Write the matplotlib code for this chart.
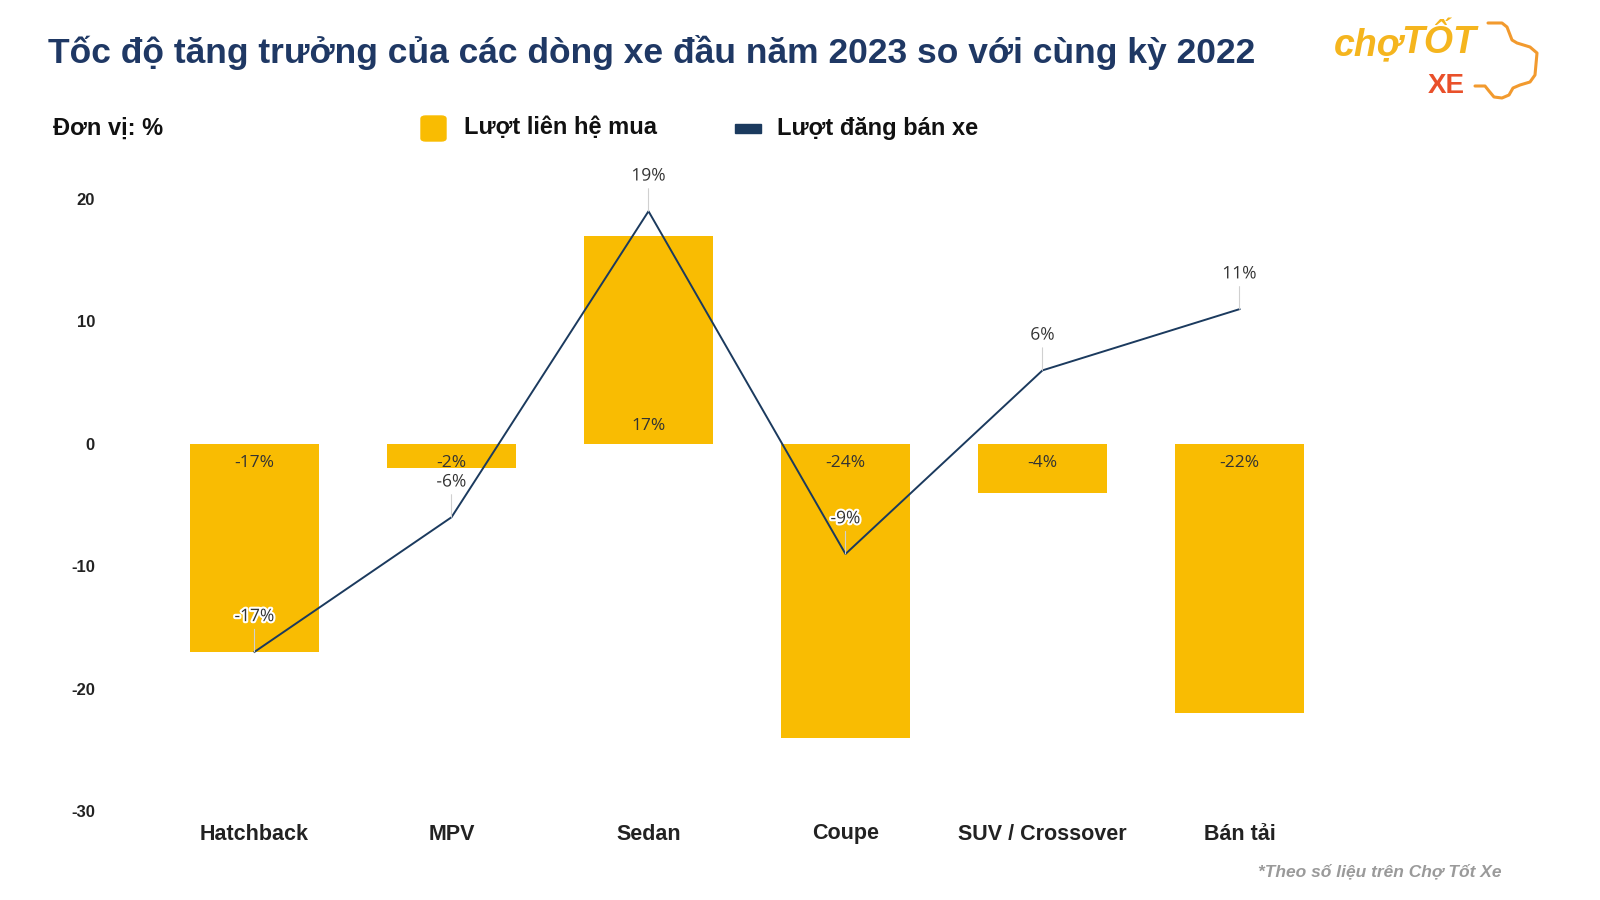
import numpy as np
import matplotlib.pyplot as plt
import matplotlib.patheffects as pe
from matplotlib.patches import FancyBboxPatch, Rectangle
from matplotlib.lines import Line2D

plt.rcParams['font.family'] = ['Liberation Sans', 'DejaVu Sans']

categories = ['Hatchback', 'MPV', 'Sedan', 'Coupe', 'SUV / Crossover', 'Bán tải']
contact_growth = [-17, -2, 17, -24, -4, -22]    # Lượt liên hệ mua (bars)
listing_growth = [-17, -6, 19, -9, 6, 11]       # Lượt đăng bán xe (line)
yticks = [-30, -20, -10, 0, 10, 20]

BAR = '#F9BC02'
NAVY = '#1B3A5E'
W, H = 1600, 900

fig = plt.figure(figsize=(16, 9), dpi=100)
fig.patch.set_facecolor('white')
ax = fig.add_axes([156 / W, 1 - 811 / H, (1338 - 156) / W, (811 - 199) / H])

x = np.arange(len(categories))
ax.bar(x, contact_growth, width=0.65, color=BAR, zorder=2)
ax.plot(x, listing_growth, color=NAVY, lw=1.4, zorder=3)

ax.set_xlim(-0.5, len(categories) - 0.5)
ax.set_ylim(-30, 20)
ax.set_yticks(yticks)
ax.set_yticklabels([str(t) for t in yticks], fontsize=12, fontweight='bold', color='#222222')
ax.set_xticks(x)
ax.set_xticklabels(categories, fontsize=15.5, fontweight='bold', color='#222222')
ax.tick_params(axis='y', length=0, pad=44)
ax.tick_params(axis='x', length=0, pad=9)
for s in ax.spines.values():
    s.set_visible(False)

lbl_font = dict(family=['Open Sans', 'DejaVu Sans'], fontsize=12.5, color='#333333')

# bar labels, inside base
for xi, v in zip(x, contact_growth):
    off = -13.5 if v < 0 else 12.5
    ax.annotate(f'{v}%', xy=(xi, 0), xytext=(0, off), textcoords='offset points',
                ha='center', va='center', zorder=4, **lbl_font)

# line labels with leader lines
for xi, v in zip(x, listing_growth):
    ax.annotate(f'{v}%', xy=(xi, v), xytext=(0, 25), textcoords='offset points',
                ha='center', va='center', zorder=5,
                arrowprops=dict(arrowstyle='-', color='#d0d0d0', lw=0.8, shrinkA=1, shrinkB=0),
                path_effects=[pe.withStroke(linewidth=3, foreground='white')], **lbl_font)

# title
fig.text(48 / W, 1 - 53 / H, 'Tốc độ tăng trưởng của các dòng xe đầu năm 2023 so với cùng kỳ 2022',
         fontsize=25.5, fontweight='bold', color='#1F3864', ha='left', va='center')

# unit + legend
leg_font = dict(fontsize=17, fontweight='bold', color='#111111', ha='left', va='center')
fig.text(53 / W, 1 - 128 / H, 'Đơn vị: %', **leg_font)
fig.patches.append(FancyBboxPatch((421 / W, 1 - 141 / H), 25 / W, 25 / H,
                                  boxstyle='round,pad=0,rounding_size=0.003',
                                  transform=fig.transFigure, color=BAR))
fig.text(464 / W, 1 - 128 / H, 'Lượt liên hệ mua', **leg_font)
fig.patches.append(Rectangle((735 / W, 1 - 133 / H), 26 / W, 9 / H,
                             transform=fig.transFigure, color=NAVY))
fig.text(777 / W, 1 - 128 / H, 'Lượt đăng bán xe', **leg_font)

# footnote
fig.text(1502 / W, 1 - 872 / H, '*Theo số liệu trên Chợ Tốt Xe', fontsize=12.5, fontweight='bold',
         style='italic', color='#9a9a9a', ha='right', va='center')

# logo
fig.text(1334 / W, 1 - 45 / H, 'chợ', fontsize=27, fontweight='bold', style='italic',
         color='#F5B51E', ha='left', va='center')
fig.text(1401 / W, 1 - 43 / H, 'TỐT', fontsize=27, fontweight='bold', style='italic',
         color='#F5B51E', ha='left', va='center')
fig.text(1428 / W, 1 - 86 / H, 'XE', fontsize=20, fontweight='bold',
         color='#E9502A', ha='left', va='center')
car = [(1475, 86), (1485, 86), (1489, 91), (1494, 97), (1502, 98), (1509, 95), (1513, 88),
       (1520, 85), (1530, 82), (1535, 75), (1537, 53), (1530, 47), (1517, 43), (1512, 40),
       (1507, 27), (1502, 23), (1488, 23)]
cx = [p[0] / W for p in car]
cy = [1 - p[1] / H for p in car]
fig.lines.append(Line2D(cx, cy, transform=fig.transFigure, color='#F29A2E', lw=2.2,
                        solid_joinstyle='round', solid_capstyle='round'))

fig.savefig('out.png', dpi=100)
